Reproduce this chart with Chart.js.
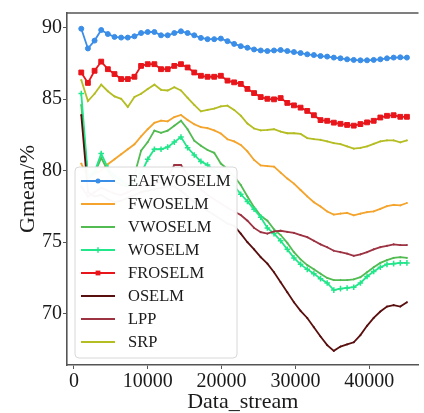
<!DOCTYPE html>
<html>
<head>
<meta charset="utf-8">
<script src="https://cdn.jsdelivr.net/npm/chart.js@4"></script>
<style>
  html, body { margin: 0; padding: 0; background: #fff; overflow: hidden; }
  #wrap { width: 424px; height: 413px; }
</style>
</head>
<body>
<div id="wrap"><canvas id="chart" width="424" height="413"></canvas></div>
<script>
// data
const dataStream = [1000, 1900, 2800, 3700, 4600, 5500, 6400, 7300, 8200, 9100,
  10000, 10900, 11800, 12700, 13600, 14500, 15400, 16300, 17200, 18100,
  19000, 19900, 20800, 21700, 22600, 23500, 24400, 25300, 26200, 27100,
  28000, 28900, 29800, 30700, 31600, 32500, 33400, 34300, 35200, 36100,
  37000, 37900, 38800, 39700, 40600, 41500, 42400, 43300, 44200, 45100];

const eafwoselm = [89.93, 88.55, 89.1, 89.84, 89.56, 89.36, 89.31, 89.31, 89.4, 89.63,
  89.7, 89.7, 89.47, 89.47, 89.63, 89.75, 89.63, 89.47, 89.29, 89.2,
  89.2, 89.24, 89.06, 88.87, 88.71, 88.6, 88.48, 88.41, 88.37, 88.41,
  88.44, 88.37, 88.3, 88.23, 88.14, 88.09, 88.02, 87.98, 87.91, 87.86,
  87.79, 87.75, 87.72, 87.72, 87.75, 87.79, 87.86, 87.91, 87.93, 87.91];
const fwoselm = [80.5, 79.5, 79.8, 80.0, 80.45, 80.8, 81.15, 81.5, 81.85, 82.4,
  82.9, 83.35, 83.5, 83.45, 83.75, 83.9, 83.55, 83.25, 83.05, 82.97,
  82.82, 82.6, 82.2, 82.05, 81.8, 81.35, 80.75, 80.37, 80.32, 80.28,
  79.86, 79.45, 79.1, 78.65, 78.2, 77.8, 77.5, 77.15, 76.93, 77.0,
  77.05, 76.88, 76.99, 77.1, 77.15, 77.33, 77.52, 77.61, 77.57, 77.74];
const vwoselm = [84.6, 79.4, 79.8, 80.9, 80.0, 79.3, 79.0, 78.9, 79.7, 81.4,
  82.0, 82.8, 82.65, 82.8, 83.15, 83.5, 82.9, 82.1, 81.75, 81.45,
  81.25, 80.5, 80.1, 79.6, 79.0, 78.2, 77.45, 76.85, 76.5, 75.9,
  75.5, 74.95, 74.3, 73.8, 73.4, 73.1, 72.8, 72.5, 72.35, 72.35,
  72.35, 72.4, 72.55, 72.9, 73.25, 73.55, 73.75, 73.9, 73.95, 73.9];
const woselm = [85.4, 79.6, 79.9, 81.2, 80.2, 79.6, 79.3, 79.0, 79.2, 79.8,
  80.8, 81.5, 81.5, 81.65, 82.0, 82.35, 81.6, 81.1, 80.65, 80.4,
  80.0, 79.7, 79.5, 78.95, 78.35, 77.85, 77.3, 76.75, 76.0, 75.6,
  75.1, 74.5, 73.9, 73.45, 73.1, 72.8, 72.45, 72.15, 71.65, 71.75,
  71.8, 71.85, 72.15, 72.6, 72.95, 73.25, 73.45, 73.5, 73.55, 73.55];
const froselm = [86.87, 86.14, 86.99, 87.63, 87.1, 86.76, 86.41, 86.41, 86.57, 87.33,
  87.45, 87.45, 87.1, 87.1, 87.33, 87.45, 87.22, 86.87, 86.64, 86.57,
  86.57, 86.64, 86.3, 86.18, 86.07, 85.72, 85.43, 85.15, 85.03, 84.99,
  85.08, 84.74, 84.57, 84.41, 84.18, 83.88, 83.54, 83.49, 83.36, 83.28,
  83.2, 83.15, 83.26, 83.38, 83.49, 83.72, 83.84, 83.88, 83.77, 83.77];
const oselm = [83.9, 78.5, 78.2, 78.3, 78.0, 77.8, 77.9, 78.1, 78.3, 78.5,
  78.6, 78.7, 78.8, 78.9, 78.9, 78.6, 78.2, 77.8, 77.5, 77.2,
  76.9, 76.6, 76.3, 76.15, 75.6, 75.0, 74.5, 73.95, 73.5, 72.9,
  72.2, 71.5, 70.8, 70.2, 69.7, 69.05, 68.4, 67.8, 67.4, 67.7,
  67.85, 68.0, 68.5, 69.15, 69.7, 70.15, 70.5, 70.6, 70.5, 70.8];
const lpp = [78.9, 78.2, 78.5, 78.8, 78.6, 78.4, 78.3, 78.5, 78.7, 78.9,
  79.0, 79.1, 79.2, 79.5, 80.4, 80.4, 79.7, 79.2, 78.7, 78.3,
  78.0, 77.7, 77.4, 77.15, 76.9, 76.5, 76.0, 75.7, 75.6, 75.75,
  75.8, 75.72, 75.65, 75.5, 75.35, 75.1, 74.85, 74.65, 74.4, 74.3,
  74.2, 74.05, 74.15, 74.3, 74.5, 74.65, 74.75, 74.85, 74.8, 74.8];
const srp = [86.34, 84.87, 85.38, 86.02, 85.56, 85.2, 85.03, 84.46, 85.15, 85.38,
  85.72, 86.02, 85.66, 85.61, 85.84, 85.61, 85.1, 84.6, 84.15, 84.25,
  84.35, 84.5, 84.55, 84.25, 83.85, 83.3, 82.95, 82.82, 82.85, 82.9,
  82.74, 82.62, 82.62, 82.57, 82.28, 82.21, 82.16, 82.05, 81.93, 81.86,
  81.7, 81.54, 81.59, 81.7, 81.88, 82.05, 82.12, 82.12, 81.98, 82.12];

const seriesNames = ["EAFWOSELM", "FWOSELM", "VWOSELM", "WOSELM", "FROSELM", "OSELM", "LPP", "SRP"];
const seriesValues = [eafwoselm, fwoselm, vwoselm, woselm, froselm, oselm, lpp, srp];
const xTicks = [0, 10000, 20000, 30000, 40000];
const yTicks = [70, 75, 80, 85, 90];

// styles
const colors = ["#3b8ee8", "#f4a42c", "#52bb52", "#22e68a", "#e8161b", "#5a0f0f", "#9c3242", "#b4bd22"];
const markers = [
  { style: "circle", radius: 2.5, width: 1 },
  { style: "cross", radius: 1, width: 1 },
  { style: "cross", radius: 1, width: 1 },
  { style: "cross", radius: 2.8, width: 1.5 },
  { style: "rect", radius: 3.4, width: 1 },
  { style: "cross", radius: 1, width: 1 },
  { style: "cross", radius: 1, width: 1 },
  { style: "cross", radius: 1, width: 1 },
];
const serif = "'Liberation Serif', 'Times New Roman', 'DejaVu Serif', serif";
const spine = "#555";

const datasets = seriesNames.map((name, i) => ({
  label: name,
  data: seriesValues[i].map((v, j) => ({ x: dataStream[j], y: v })),
  borderColor: colors[i],
  backgroundColor: colors[i],
  borderWidth: 1.8,
  pointStyle: markers[i].style,
  pointRadius: markers[i].radius,
  pointBorderWidth: markers[i].width,
  pointBackgroundColor: colors[i],
  pointBorderColor: colors[i],
  tension: 0,
  order: -i,
}));

// top spine (right one is cropped off in the reference)
const topSpine = {
  id: "topSpine",
  afterDraw(chart) {
    const { ctx, chartArea } = chart;
    ctx.save();
    ctx.strokeStyle = spine;
    ctx.lineWidth = 1.6;
    ctx.beginPath();
    ctx.moveTo(chartArea.left, chartArea.top);
    ctx.lineTo(chartArea.right, chartArea.top);
    ctx.stroke();
    ctx.restore();
  },
};

// matplotlib-like legend box inside the plot
const boxLegend = {
  id: "boxLegend",
  afterDatasetsDraw(chart) {
    const ctx = chart.ctx;
    const x0 = 75, y0 = 167, w = 162, h = 191;
    ctx.save();
    ctx.beginPath();
    ctx.roundRect(x0, y0, w, h, 4);
    ctx.fillStyle = "rgba(255,255,255,0.97)";
    ctx.fill();
    ctx.strokeStyle = "#d8d8d8";
    ctx.lineWidth = 1;
    ctx.stroke();

    ctx.font = "16.5px " + serif;
    ctx.textBaseline = "middle";
    ctx.textAlign = "left";
    chart.data.datasets.forEach((ds, i) => {
      const y = 181 + i * 23;
      ctx.strokeStyle = ds.borderColor;
      ctx.fillStyle = ds.borderColor;
      ctx.lineWidth = 2;
      ctx.beginPath();
      ctx.moveTo(81, y);
      ctx.lineTo(115, y);
      ctx.stroke();
      ctx.lineWidth = ds.pointBorderWidth;
      ctx.beginPath();
      if (ds.pointStyle === "circle") {
        ctx.arc(98, y, ds.pointRadius, 0, Math.PI * 2);
        ctx.fill();
      } else if (ds.pointStyle === "rect") {
        const s = ds.pointRadius * 0.7071;
        ctx.fillRect(98 - s, y - s, 2 * s, 2 * s);
      } else {
        ctx.moveTo(98 - ds.pointRadius, y);
        ctx.lineTo(98 + ds.pointRadius, y);
        ctx.moveTo(98, y - ds.pointRadius);
        ctx.lineTo(98, y + ds.pointRadius);
        ctx.stroke();
      }
      ctx.fillStyle = "#1a1a1a";
      ctx.fillText(ds.label, 128, y + 1);
    });
    ctx.restore();
  },
};

new Chart(document.getElementById("chart"), {
  type: "line",
  data: { datasets },
  options: {
    responsive: false,
    animation: false,
    devicePixelRatio: 1,
    layout: { padding: { left: 0, top: 8, right: 0, bottom: 0 } },
    plugins: {
      legend: { display: false },
      tooltip: { enabled: false },
    },
    scales: {
      x: {
        type: "linear",
        min: -933,
        max: 46667,
        afterFit(scale) { scale.height = 48; },
        afterBuildTicks(scale) { scale.ticks = xTicks.map(v => ({ value: v })); },
        border: { color: spine, width: 1.6 },
        grid: { drawOnChartArea: false, drawTicks: true, tickLength: 4, color: spine },
        ticks: {
          color: "#1a1a1a",
          font: { family: serif, size: 20 },
          padding: 1,
          maxRotation: 0,
          callback: v => String(v),
        },
        title: {
          display: true,
          text: "Data_stream",
          color: "#1a1a1a",
          font: { family: serif, size: 22, lineHeight: 1 },
          padding: { top: 0, bottom: 0 },
        },
      },
      y: {
        min: 66.41,
        max: 91.03,
        afterFit(scale) { scale.width = 67; },
        afterBuildTicks(scale) { scale.ticks = yTicks.map(v => ({ value: v })); },
        border: { color: spine, width: 1.6 },
        grid: { drawOnChartArea: false, drawTicks: true, tickLength: 4, color: spine },
        ticks: { color: "#1a1a1a", font: { family: serif, size: 20 }, padding: 1, callback: v => String(v) },
        title: {
          display: true,
          text: "Gmean/%",
          color: "#1a1a1a",
          font: { family: serif, size: 22, lineHeight: 1 },
          padding: { top: 17, bottom: 0 },
        },
      },
    },
  },
  plugins: [topSpine, boxLegend],
});
</script>
</body>
</html>
